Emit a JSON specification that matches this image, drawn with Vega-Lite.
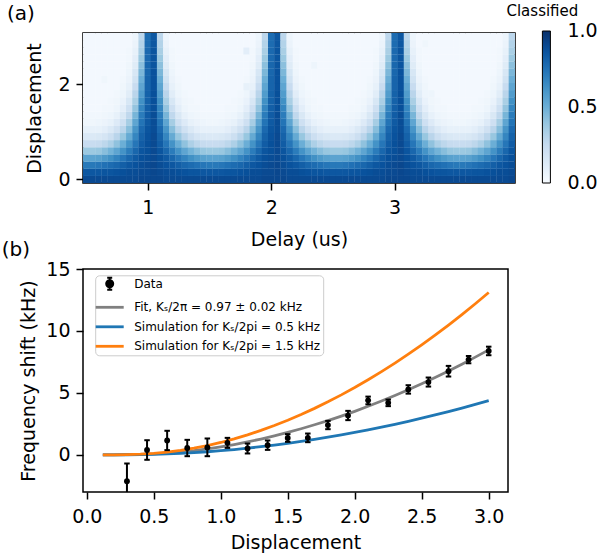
{
"$schema": "https://vega.github.io/schema/vega-lite/v6.json",
"padding": {"left": 0, "top": 3, "right": 0, "bottom": 0},
"spacing": -11,
"config": {
  "font": "DejaVu Sans",
  "view": {"stroke": "black", "strokeWidth": 1.5},
  "axis": {"domain": false, "grid": false, "tickColor": "black", "tickWidth": 1.5, "tickSize": 7, "labelFontSize": 19, "labelColor": "black", "labelPadding": 6, "labelFlush": false, "labelOverlap": false, "titleFontSize": 19, "titleFontWeight": "normal", "titleColor": "black"},
  "axisX": {"labelPadding": 8},
  "title": {"fontSize": 20, "fontWeight": "normal", "color": "black", "anchor": "start", "frame": "group"}
},
"vconcat": [
{
  "width": 432, "height": 150,
  "title": {"text": "(a)", "dx": -76, "offset": -20.4},
  "data": {"values": [
{"t":0.5,"d":0,"v":0.9},{"t":0.55,"d":0,"v":0.9},{"t":0.6,"d":0,"v":0.9},{"t":0.65,"d":0,"v":0.9},{"t":0.7,"d":0,"v":0.9},{"t":0.75,"d":0,"v":0.9},{"t":0.8,"d":0,"v":0.9},{"t":0.85,"d":0,"v":0.9},{"t":0.9,"d":0,"v":0.9},{"t":0.95,"d":0,"v":0.91},{"t":1,"d":0,"v":0.91},{"t":1.05,"d":0,"v":0.91},{"t":1.1,"d":0,"v":0.91},{"t":1.15,"d":0,"v":0.9},{"t":1.2,"d":0,"v":0.9},{"t":1.25,"d":0,"v":0.9},{"t":1.3,"d":0,"v":0.9},{"t":1.35,"d":0,"v":0.9},{"t":1.4,"d":0,"v":0.9},{"t":1.45,"d":0,"v":0.9},
{"t":1.5,"d":0,"v":0.9},{"t":1.55,"d":0,"v":0.9},{"t":1.6,"d":0,"v":0.9},{"t":1.65,"d":0,"v":0.9},{"t":1.7,"d":0,"v":0.9},{"t":1.75,"d":0,"v":0.9},{"t":1.8,"d":0,"v":0.9},{"t":1.85,"d":0,"v":0.9},{"t":1.9,"d":0,"v":0.9},{"t":1.95,"d":0,"v":0.91},{"t":2,"d":0,"v":0.91},{"t":2.05,"d":0,"v":0.91},{"t":2.1,"d":0,"v":0.91},{"t":2.15,"d":0,"v":0.9},{"t":2.2,"d":0,"v":0.9},{"t":2.25,"d":0,"v":0.9},{"t":2.3,"d":0,"v":0.9},{"t":2.35,"d":0,"v":0.9},{"t":2.4,"d":0,"v":0.9},{"t":2.45,"d":0,"v":0.9},
{"t":2.5,"d":0,"v":0.9},{"t":2.55,"d":0,"v":0.9},{"t":2.6,"d":0,"v":0.9},{"t":2.65,"d":0,"v":0.9},{"t":2.7,"d":0,"v":0.9},{"t":2.75,"d":0,"v":0.9},{"t":2.8,"d":0,"v":0.9},{"t":2.85,"d":0,"v":0.9},{"t":2.9,"d":0,"v":0.9},{"t":2.95,"d":0,"v":0.91},{"t":3,"d":0,"v":0.91},{"t":3.05,"d":0,"v":0.91},{"t":3.1,"d":0,"v":0.91},{"t":3.15,"d":0,"v":0.9},{"t":3.2,"d":0,"v":0.9},{"t":3.25,"d":0,"v":0.9},{"t":3.3,"d":0,"v":0.9},{"t":3.35,"d":0,"v":0.9},{"t":3.4,"d":0,"v":0.9},{"t":3.45,"d":0,"v":0.9},
{"t":3.5,"d":0,"v":0.9},{"t":3.55,"d":0,"v":0.9},{"t":3.6,"d":0,"v":0.9},{"t":3.65,"d":0,"v":0.9},{"t":3.7,"d":0,"v":0.9},{"t":3.75,"d":0,"v":0.9},{"t":3.8,"d":0,"v":0.9},{"t":3.85,"d":0,"v":0.9},{"t":3.9,"d":0,"v":0.9},{"t":3.95,"d":0,"v":0.91},

{"t":0.5,"d":0.15,"v":0.85},{"t":0.55,"d":0.15,"v":0.85},{"t":0.6,"d":0.15,"v":0.85},{"t":0.65,"d":0.15,"v":0.86},{"t":0.7,"d":0.15,"v":0.86},{"t":0.75,"d":0.15,"v":0.87},{"t":0.8,"d":0.15,"v":0.88},{"t":0.85,"d":0.15,"v":0.89},{"t":0.9,"d":0.15,"v":0.89},{"t":0.95,"d":0.15,"v":0.9},{"t":1,"d":0.15,"v":0.9},{"t":1.05,"d":0.15,"v":0.91},{"t":1.1,"d":0.15,"v":0.9},{"t":1.15,"d":0.15,"v":0.89},{"t":1.2,"d":0.15,"v":0.89},{"t":1.25,"d":0.15,"v":0.88},{"t":1.3,"d":0.15,"v":0.87},{"t":1.35,"d":0.15,"v":0.86},{"t":1.4,"d":0.15,"v":0.86},{"t":1.45,"d":0.15,"v":0.85},
{"t":1.5,"d":0.15,"v":0.85},{"t":1.55,"d":0.15,"v":0.85},{"t":1.6,"d":0.15,"v":0.85},{"t":1.65,"d":0.15,"v":0.86},{"t":1.7,"d":0.15,"v":0.86},{"t":1.75,"d":0.15,"v":0.87},{"t":1.8,"d":0.15,"v":0.88},{"t":1.85,"d":0.15,"v":0.89},{"t":1.9,"d":0.15,"v":0.89},{"t":1.95,"d":0.15,"v":0.9},{"t":2,"d":0.15,"v":0.9},{"t":2.05,"d":0.15,"v":0.91},{"t":2.1,"d":0.15,"v":0.9},{"t":2.15,"d":0.15,"v":0.89},{"t":2.2,"d":0.15,"v":0.89},{"t":2.25,"d":0.15,"v":0.88},{"t":2.3,"d":0.15,"v":0.87},{"t":2.35,"d":0.15,"v":0.86},{"t":2.4,"d":0.15,"v":0.86},{"t":2.45,"d":0.15,"v":0.85},
{"t":2.5,"d":0.15,"v":0.85},{"t":2.55,"d":0.15,"v":0.85},{"t":2.6,"d":0.15,"v":0.85},{"t":2.65,"d":0.15,"v":0.86},{"t":2.7,"d":0.15,"v":0.86},{"t":2.75,"d":0.15,"v":0.87},{"t":2.8,"d":0.15,"v":0.88},{"t":2.85,"d":0.15,"v":0.89},{"t":2.9,"d":0.15,"v":0.89},{"t":2.95,"d":0.15,"v":0.9},{"t":3,"d":0.15,"v":0.9},{"t":3.05,"d":0.15,"v":0.91},{"t":3.1,"d":0.15,"v":0.9},{"t":3.15,"d":0.15,"v":0.89},{"t":3.2,"d":0.15,"v":0.89},{"t":3.25,"d":0.15,"v":0.88},{"t":3.3,"d":0.15,"v":0.87},{"t":3.35,"d":0.15,"v":0.86},{"t":3.4,"d":0.15,"v":0.86},{"t":3.45,"d":0.15,"v":0.85},
{"t":3.5,"d":0.15,"v":0.85},{"t":3.55,"d":0.15,"v":0.85},{"t":3.6,"d":0.15,"v":0.85},{"t":3.65,"d":0.15,"v":0.86},{"t":3.7,"d":0.15,"v":0.86},{"t":3.75,"d":0.15,"v":0.87},{"t":3.8,"d":0.15,"v":0.88},{"t":3.85,"d":0.15,"v":0.89},{"t":3.9,"d":0.15,"v":0.89},{"t":3.95,"d":0.15,"v":0.9},

{"t":0.5,"d":0.3,"v":0.72},{"t":0.55,"d":0.3,"v":0.72},{"t":0.6,"d":0.3,"v":0.73},{"t":0.65,"d":0.3,"v":0.75},{"t":0.7,"d":0.3,"v":0.77},{"t":0.75,"d":0.3,"v":0.79},{"t":0.8,"d":0.3,"v":0.82},{"t":0.85,"d":0.3,"v":0.85},{"t":0.9,"d":0.3,"v":0.87},{"t":0.95,"d":0.3,"v":0.89},{"t":1,"d":0.3,"v":0.9},{"t":1.05,"d":0.3,"v":0.91},{"t":1.1,"d":0.3,"v":0.89},{"t":1.15,"d":0.3,"v":0.87},{"t":1.2,"d":0.3,"v":0.85},{"t":1.25,"d":0.3,"v":0.82},{"t":1.3,"d":0.3,"v":0.79},{"t":1.35,"d":0.3,"v":0.77},{"t":1.4,"d":0.3,"v":0.75},{"t":1.45,"d":0.3,"v":0.73},
{"t":1.5,"d":0.3,"v":0.72},{"t":1.55,"d":0.3,"v":0.72},{"t":1.6,"d":0.3,"v":0.73},{"t":1.65,"d":0.3,"v":0.75},{"t":1.7,"d":0.3,"v":0.77},{"t":1.75,"d":0.3,"v":0.79},{"t":1.8,"d":0.3,"v":0.82},{"t":1.85,"d":0.3,"v":0.85},{"t":1.9,"d":0.3,"v":0.87},{"t":1.95,"d":0.3,"v":0.89},{"t":2,"d":0.3,"v":0.9},{"t":2.05,"d":0.3,"v":0.91},{"t":2.1,"d":0.3,"v":0.89},{"t":2.15,"d":0.3,"v":0.87},{"t":2.2,"d":0.3,"v":0.85},{"t":2.25,"d":0.3,"v":0.82},{"t":2.3,"d":0.3,"v":0.79},{"t":2.35,"d":0.3,"v":0.77},{"t":2.4,"d":0.3,"v":0.75},{"t":2.45,"d":0.3,"v":0.73},
{"t":2.5,"d":0.3,"v":0.72},{"t":2.55,"d":0.3,"v":0.72},{"t":2.6,"d":0.3,"v":0.73},{"t":2.65,"d":0.3,"v":0.75},{"t":2.7,"d":0.3,"v":0.77},{"t":2.75,"d":0.3,"v":0.79},{"t":2.8,"d":0.3,"v":0.82},{"t":2.85,"d":0.3,"v":0.85},{"t":2.9,"d":0.3,"v":0.87},{"t":2.95,"d":0.3,"v":0.89},{"t":3,"d":0.3,"v":0.9},{"t":3.05,"d":0.3,"v":0.91},{"t":3.1,"d":0.3,"v":0.89},{"t":3.15,"d":0.3,"v":0.87},{"t":3.2,"d":0.3,"v":0.85},{"t":3.25,"d":0.3,"v":0.82},{"t":3.3,"d":0.3,"v":0.79},{"t":3.35,"d":0.3,"v":0.77},{"t":3.4,"d":0.3,"v":0.75},{"t":3.45,"d":0.3,"v":0.73},
{"t":3.5,"d":0.3,"v":0.72},{"t":3.55,"d":0.3,"v":0.72},{"t":3.6,"d":0.3,"v":0.73},{"t":3.65,"d":0.3,"v":0.75},{"t":3.7,"d":0.3,"v":0.77},{"t":3.75,"d":0.3,"v":0.79},{"t":3.8,"d":0.3,"v":0.82},{"t":3.85,"d":0.3,"v":0.85},{"t":3.9,"d":0.3,"v":0.87},{"t":3.95,"d":0.3,"v":0.89},

{"t":0.5,"d":0.45,"v":0.55},{"t":0.55,"d":0.45,"v":0.55},{"t":0.6,"d":0.45,"v":0.56},{"t":0.65,"d":0.45,"v":0.59},{"t":0.7,"d":0.45,"v":0.63},{"t":0.75,"d":0.45,"v":0.68},{"t":0.8,"d":0.45,"v":0.73},{"t":0.85,"d":0.45,"v":0.79},{"t":0.9,"d":0.45,"v":0.84},{"t":0.95,"d":0.45,"v":0.88},{"t":1,"d":0.45,"v":0.89},{"t":1.05,"d":0.45,"v":0.9},{"t":1.1,"d":0.45,"v":0.88},{"t":1.15,"d":0.45,"v":0.84},{"t":1.2,"d":0.45,"v":0.79},{"t":1.25,"d":0.45,"v":0.73},{"t":1.3,"d":0.45,"v":0.68},{"t":1.35,"d":0.45,"v":0.63},{"t":1.4,"d":0.45,"v":0.59},{"t":1.45,"d":0.45,"v":0.56},
{"t":1.5,"d":0.45,"v":0.55},{"t":1.55,"d":0.45,"v":0.55},{"t":1.6,"d":0.45,"v":0.56},{"t":1.65,"d":0.45,"v":0.59},{"t":1.7,"d":0.45,"v":0.63},{"t":1.75,"d":0.45,"v":0.68},{"t":1.8,"d":0.45,"v":0.73},{"t":1.85,"d":0.45,"v":0.79},{"t":1.9,"d":0.45,"v":0.84},{"t":1.95,"d":0.45,"v":0.88},{"t":2,"d":0.45,"v":0.89},{"t":2.05,"d":0.45,"v":0.9},{"t":2.1,"d":0.45,"v":0.88},{"t":2.15,"d":0.45,"v":0.84},{"t":2.2,"d":0.45,"v":0.79},{"t":2.25,"d":0.45,"v":0.73},{"t":2.3,"d":0.45,"v":0.68},{"t":2.35,"d":0.45,"v":0.63},{"t":2.4,"d":0.45,"v":0.59},{"t":2.45,"d":0.45,"v":0.56},
{"t":2.5,"d":0.45,"v":0.55},{"t":2.55,"d":0.45,"v":0.55},{"t":2.6,"d":0.45,"v":0.56},{"t":2.65,"d":0.45,"v":0.59},{"t":2.7,"d":0.45,"v":0.63},{"t":2.75,"d":0.45,"v":0.68},{"t":2.8,"d":0.45,"v":0.73},{"t":2.85,"d":0.45,"v":0.79},{"t":2.9,"d":0.45,"v":0.84},{"t":2.95,"d":0.45,"v":0.88},{"t":3,"d":0.45,"v":0.89},{"t":3.05,"d":0.45,"v":0.9},{"t":3.1,"d":0.45,"v":0.88},{"t":3.15,"d":0.45,"v":0.84},{"t":3.2,"d":0.45,"v":0.79},{"t":3.25,"d":0.45,"v":0.73},{"t":3.3,"d":0.45,"v":0.68},{"t":3.35,"d":0.45,"v":0.63},{"t":3.4,"d":0.45,"v":0.59},{"t":3.45,"d":0.45,"v":0.56},
{"t":3.5,"d":0.45,"v":0.55},{"t":3.55,"d":0.45,"v":0.55},{"t":3.6,"d":0.45,"v":0.56},{"t":3.65,"d":0.45,"v":0.59},{"t":3.7,"d":0.45,"v":0.63},{"t":3.75,"d":0.45,"v":0.68},{"t":3.8,"d":0.45,"v":0.73},{"t":3.85,"d":0.45,"v":0.79},{"t":3.9,"d":0.45,"v":0.84},{"t":3.95,"d":0.45,"v":0.88},

{"t":0.5,"d":0.6,"v":0.38},{"t":0.55,"d":0.6,"v":0.38},{"t":0.6,"d":0.6,"v":0.39},{"t":0.65,"d":0.6,"v":0.43},{"t":0.7,"d":0.6,"v":0.48},{"t":0.75,"d":0.6,"v":0.54},{"t":0.8,"d":0.6,"v":0.62},{"t":0.85,"d":0.6,"v":0.71},{"t":0.9,"d":0.6,"v":0.79},{"t":0.95,"d":0.6,"v":0.86},{"t":1,"d":0.6,"v":0.88},{"t":1.05,"d":0.6,"v":0.9},{"t":1.1,"d":0.6,"v":0.86},{"t":1.15,"d":0.6,"v":0.79},{"t":1.2,"d":0.6,"v":0.71},{"t":1.25,"d":0.6,"v":0.62},{"t":1.3,"d":0.6,"v":0.54},{"t":1.35,"d":0.6,"v":0.48},{"t":1.4,"d":0.6,"v":0.43},{"t":1.45,"d":0.6,"v":0.39},
{"t":1.5,"d":0.6,"v":0.38},{"t":1.55,"d":0.6,"v":0.38},{"t":1.6,"d":0.6,"v":0.39},{"t":1.65,"d":0.6,"v":0.43},{"t":1.7,"d":0.6,"v":0.48},{"t":1.75,"d":0.6,"v":0.54},{"t":1.8,"d":0.6,"v":0.62},{"t":1.85,"d":0.6,"v":0.71},{"t":1.9,"d":0.6,"v":0.79},{"t":1.95,"d":0.6,"v":0.86},{"t":2,"d":0.6,"v":0.88},{"t":2.05,"d":0.6,"v":0.9},{"t":2.1,"d":0.6,"v":0.86},{"t":2.15,"d":0.6,"v":0.79},{"t":2.2,"d":0.6,"v":0.71},{"t":2.25,"d":0.6,"v":0.62},{"t":2.3,"d":0.6,"v":0.54},{"t":2.35,"d":0.6,"v":0.48},{"t":2.4,"d":0.6,"v":0.43},{"t":2.45,"d":0.6,"v":0.39},
{"t":2.5,"d":0.6,"v":0.38},{"t":2.55,"d":0.6,"v":0.38},{"t":2.6,"d":0.6,"v":0.39},{"t":2.65,"d":0.6,"v":0.43},{"t":2.7,"d":0.6,"v":0.48},{"t":2.75,"d":0.6,"v":0.54},{"t":2.8,"d":0.6,"v":0.62},{"t":2.85,"d":0.6,"v":0.71},{"t":2.9,"d":0.6,"v":0.79},{"t":2.95,"d":0.6,"v":0.86},{"t":3,"d":0.6,"v":0.88},{"t":3.05,"d":0.6,"v":0.9},{"t":3.1,"d":0.6,"v":0.86},{"t":3.15,"d":0.6,"v":0.79},{"t":3.2,"d":0.6,"v":0.71},{"t":3.25,"d":0.6,"v":0.62},{"t":3.3,"d":0.6,"v":0.54},{"t":3.35,"d":0.6,"v":0.48},{"t":3.4,"d":0.6,"v":0.43},{"t":3.45,"d":0.6,"v":0.39},
{"t":3.5,"d":0.6,"v":0.38},{"t":3.55,"d":0.6,"v":0.38},{"t":3.6,"d":0.6,"v":0.39},{"t":3.65,"d":0.6,"v":0.43},{"t":3.7,"d":0.6,"v":0.48},{"t":3.75,"d":0.6,"v":0.54},{"t":3.8,"d":0.6,"v":0.62},{"t":3.85,"d":0.6,"v":0.71},{"t":3.9,"d":0.6,"v":0.79},{"t":3.95,"d":0.6,"v":0.86},

{"t":0.5,"d":0.75,"v":0.24},{"t":0.55,"d":0.75,"v":0.24},{"t":0.6,"d":0.75,"v":0.25},{"t":0.65,"d":0.75,"v":0.28},{"t":0.7,"d":0.75,"v":0.33},{"t":0.75,"d":0.75,"v":0.41},{"t":0.8,"d":0.75,"v":0.5},{"t":0.85,"d":0.75,"v":0.62},{"t":0.9,"d":0.75,"v":0.73},{"t":0.95,"d":0.75,"v":0.83},{"t":1,"d":0.75,"v":0.88},{"t":1.05,"d":0.75,"v":0.9},{"t":1.1,"d":0.75,"v":0.83},{"t":1.15,"d":0.75,"v":0.73},{"t":1.2,"d":0.75,"v":0.62},{"t":1.25,"d":0.75,"v":0.5},{"t":1.3,"d":0.75,"v":0.41},{"t":1.35,"d":0.75,"v":0.33},{"t":1.4,"d":0.75,"v":0.28},{"t":1.45,"d":0.75,"v":0.25},
{"t":1.5,"d":0.75,"v":0.24},{"t":1.55,"d":0.75,"v":0.24},{"t":1.6,"d":0.75,"v":0.25},{"t":1.65,"d":0.75,"v":0.28},{"t":1.7,"d":0.75,"v":0.33},{"t":1.75,"d":0.75,"v":0.41},{"t":1.8,"d":0.75,"v":0.5},{"t":1.85,"d":0.75,"v":0.62},{"t":1.9,"d":0.75,"v":0.73},{"t":1.95,"d":0.75,"v":0.83},{"t":2,"d":0.75,"v":0.88},{"t":2.05,"d":0.75,"v":0.9},{"t":2.1,"d":0.75,"v":0.83},{"t":2.15,"d":0.75,"v":0.73},{"t":2.2,"d":0.75,"v":0.62},{"t":2.25,"d":0.75,"v":0.5},{"t":2.3,"d":0.75,"v":0.41},{"t":2.35,"d":0.75,"v":0.33},{"t":2.4,"d":0.75,"v":0.28},{"t":2.45,"d":0.75,"v":0.25},
{"t":2.5,"d":0.75,"v":0.24},{"t":2.55,"d":0.75,"v":0.24},{"t":2.6,"d":0.75,"v":0.25},{"t":2.65,"d":0.75,"v":0.28},{"t":2.7,"d":0.75,"v":0.33},{"t":2.75,"d":0.75,"v":0.41},{"t":2.8,"d":0.75,"v":0.5},{"t":2.85,"d":0.75,"v":0.62},{"t":2.9,"d":0.75,"v":0.73},{"t":2.95,"d":0.75,"v":0.83},{"t":3,"d":0.75,"v":0.88},{"t":3.05,"d":0.75,"v":0.9},{"t":3.1,"d":0.75,"v":0.83},{"t":3.15,"d":0.75,"v":0.73},{"t":3.2,"d":0.75,"v":0.62},{"t":3.25,"d":0.75,"v":0.5},{"t":3.3,"d":0.75,"v":0.41},{"t":3.35,"d":0.75,"v":0.33},{"t":3.4,"d":0.75,"v":0.28},{"t":3.45,"d":0.75,"v":0.25},
{"t":3.5,"d":0.75,"v":0.24},{"t":3.55,"d":0.75,"v":0.24},{"t":3.6,"d":0.75,"v":0.25},{"t":3.65,"d":0.75,"v":0.28},{"t":3.7,"d":0.75,"v":0.33},{"t":3.75,"d":0.75,"v":0.41},{"t":3.8,"d":0.75,"v":0.5},{"t":3.85,"d":0.75,"v":0.62},{"t":3.9,"d":0.75,"v":0.73},{"t":3.95,"d":0.75,"v":0.83},

{"t":0.5,"d":0.9,"v":0.14},{"t":0.55,"d":0.9,"v":0.14},{"t":0.6,"d":0.9,"v":0.15},{"t":0.65,"d":0.9,"v":0.17},{"t":0.7,"d":0.9,"v":0.22},{"t":0.75,"d":0.9,"v":0.29},{"t":0.8,"d":0.9,"v":0.39},{"t":0.85,"d":0.9,"v":0.52},{"t":0.9,"d":0.9,"v":0.67},{"t":0.95,"d":0.9,"v":0.81},{"t":1,"d":0.9,"v":0.87},{"t":1.05,"d":0.9,"v":0.9},{"t":1.1,"d":0.9,"v":0.81},{"t":1.15,"d":0.9,"v":0.67},{"t":1.2,"d":0.9,"v":0.52},{"t":1.25,"d":0.9,"v":0.39},{"t":1.3,"d":0.9,"v":0.29},{"t":1.35,"d":0.9,"v":0.22},{"t":1.4,"d":0.9,"v":0.17},{"t":1.45,"d":0.9,"v":0.15},
{"t":1.5,"d":0.9,"v":0.14},{"t":1.55,"d":0.9,"v":0.14},{"t":1.6,"d":0.9,"v":0.15},{"t":1.65,"d":0.9,"v":0.17},{"t":1.7,"d":0.9,"v":0.22},{"t":1.75,"d":0.9,"v":0.29},{"t":1.8,"d":0.9,"v":0.39},{"t":1.85,"d":0.9,"v":0.52},{"t":1.9,"d":0.9,"v":0.67},{"t":1.95,"d":0.9,"v":0.81},{"t":2,"d":0.9,"v":0.87},{"t":2.05,"d":0.9,"v":0.9},{"t":2.1,"d":0.9,"v":0.81},{"t":2.15,"d":0.9,"v":0.67},{"t":2.2,"d":0.9,"v":0.52},{"t":2.25,"d":0.9,"v":0.39},{"t":2.3,"d":0.9,"v":0.29},{"t":2.35,"d":0.9,"v":0.22},{"t":2.4,"d":0.9,"v":0.17},{"t":2.45,"d":0.9,"v":0.15},
{"t":2.5,"d":0.9,"v":0.14},{"t":2.55,"d":0.9,"v":0.14},{"t":2.6,"d":0.9,"v":0.15},{"t":2.65,"d":0.9,"v":0.17},{"t":2.7,"d":0.9,"v":0.22},{"t":2.75,"d":0.9,"v":0.29},{"t":2.8,"d":0.9,"v":0.39},{"t":2.85,"d":0.9,"v":0.52},{"t":2.9,"d":0.9,"v":0.67},{"t":2.95,"d":0.9,"v":0.81},{"t":3,"d":0.9,"v":0.87},{"t":3.05,"d":0.9,"v":0.9},{"t":3.1,"d":0.9,"v":0.81},{"t":3.15,"d":0.9,"v":0.67},{"t":3.2,"d":0.9,"v":0.52},{"t":3.25,"d":0.9,"v":0.39},{"t":3.3,"d":0.9,"v":0.29},{"t":3.35,"d":0.9,"v":0.22},{"t":3.4,"d":0.9,"v":0.17},{"t":3.45,"d":0.9,"v":0.15},
{"t":3.5,"d":0.9,"v":0.14},{"t":3.55,"d":0.9,"v":0.14},{"t":3.6,"d":0.9,"v":0.15},{"t":3.65,"d":0.9,"v":0.17},{"t":3.7,"d":0.9,"v":0.22},{"t":3.75,"d":0.9,"v":0.29},{"t":3.8,"d":0.9,"v":0.39},{"t":3.85,"d":0.9,"v":0.52},{"t":3.9,"d":0.9,"v":0.67},{"t":3.95,"d":0.9,"v":0.81},

{"t":0.5,"d":1.05,"v":0.08},{"t":0.55,"d":1.05,"v":0.08},{"t":0.6,"d":1.05,"v":0.08},{"t":0.65,"d":1.05,"v":0.1},{"t":0.7,"d":1.05,"v":0.14},{"t":0.75,"d":1.05,"v":0.2},{"t":0.8,"d":1.05,"v":0.29},{"t":0.85,"d":1.05,"v":0.43},{"t":0.9,"d":1.05,"v":0.61},{"t":0.95,"d":1.05,"v":0.78},{"t":1,"d":1.05,"v":0.86},{"t":1.05,"d":1.05,"v":0.89},{"t":1.1,"d":1.05,"v":0.78},{"t":1.15,"d":1.05,"v":0.61},{"t":1.2,"d":1.05,"v":0.43},{"t":1.25,"d":1.05,"v":0.29},{"t":1.3,"d":1.05,"v":0.2},{"t":1.35,"d":1.05,"v":0.14},{"t":1.4,"d":1.05,"v":0.1},{"t":1.45,"d":1.05,"v":0.08},
{"t":1.5,"d":1.05,"v":0.08},{"t":1.55,"d":1.05,"v":0.08},{"t":1.6,"d":1.05,"v":0.08},{"t":1.65,"d":1.05,"v":0.1},{"t":1.7,"d":1.05,"v":0.14},{"t":1.75,"d":1.05,"v":0.2},{"t":1.8,"d":1.05,"v":0.29},{"t":1.85,"d":1.05,"v":0.43},{"t":1.9,"d":1.05,"v":0.61},{"t":1.95,"d":1.05,"v":0.78},{"t":2,"d":1.05,"v":0.86},{"t":2.05,"d":1.05,"v":0.89},{"t":2.1,"d":1.05,"v":0.78},{"t":2.15,"d":1.05,"v":0.61},{"t":2.2,"d":1.05,"v":0.43},{"t":2.25,"d":1.05,"v":0.29},{"t":2.3,"d":1.05,"v":0.2},{"t":2.35,"d":1.05,"v":0.14},{"t":2.4,"d":1.05,"v":0.1},{"t":2.45,"d":1.05,"v":0.08},
{"t":2.5,"d":1.05,"v":0.08},{"t":2.55,"d":1.05,"v":0.08},{"t":2.6,"d":1.05,"v":0.08},{"t":2.65,"d":1.05,"v":0.1},{"t":2.7,"d":1.05,"v":0.14},{"t":2.75,"d":1.05,"v":0.2},{"t":2.8,"d":1.05,"v":0.29},{"t":2.85,"d":1.05,"v":0.43},{"t":2.9,"d":1.05,"v":0.61},{"t":2.95,"d":1.05,"v":0.78},{"t":3,"d":1.05,"v":0.86},{"t":3.05,"d":1.05,"v":0.89},{"t":3.1,"d":1.05,"v":0.78},{"t":3.15,"d":1.05,"v":0.61},{"t":3.2,"d":1.05,"v":0.43},{"t":3.25,"d":1.05,"v":0.29},{"t":3.3,"d":1.05,"v":0.2},{"t":3.35,"d":1.05,"v":0.14},{"t":3.4,"d":1.05,"v":0.1},{"t":3.45,"d":1.05,"v":0.08},
{"t":3.5,"d":1.05,"v":0.08},{"t":3.55,"d":1.05,"v":0.08},{"t":3.6,"d":1.05,"v":0.08},{"t":3.65,"d":1.05,"v":0.1},{"t":3.7,"d":1.05,"v":0.14},{"t":3.75,"d":1.05,"v":0.2},{"t":3.8,"d":1.05,"v":0.29},{"t":3.85,"d":1.05,"v":0.43},{"t":3.9,"d":1.05,"v":0.61},{"t":3.95,"d":1.05,"v":0.78},

{"t":0.5,"d":1.2,"v":0.04},{"t":0.55,"d":1.2,"v":0.04},{"t":0.6,"d":1.2,"v":0.05},{"t":0.65,"d":1.2,"v":0.06},{"t":0.7,"d":1.2,"v":0.08},{"t":0.75,"d":1.2,"v":0.13},{"t":0.8,"d":1.2,"v":0.21},{"t":0.85,"d":1.2,"v":0.35},{"t":0.9,"d":1.2,"v":0.54},{"t":0.95,"d":1.2,"v":0.74},{"t":1,"d":1.2,"v":0.84},{"t":1.05,"d":1.2,"v":0.89},{"t":1.1,"d":1.2,"v":0.74},{"t":1.15,"d":1.2,"v":0.54},{"t":1.2,"d":1.2,"v":0.35},{"t":1.25,"d":1.2,"v":0.21},{"t":1.3,"d":1.2,"v":0.13},{"t":1.35,"d":1.2,"v":0.08},{"t":1.4,"d":1.2,"v":0.06},{"t":1.45,"d":1.2,"v":0.05},
{"t":1.5,"d":1.2,"v":0.04},{"t":1.55,"d":1.2,"v":0.04},{"t":1.6,"d":1.2,"v":0.05},{"t":1.65,"d":1.2,"v":0.06},{"t":1.7,"d":1.2,"v":0.08},{"t":1.75,"d":1.2,"v":0.13},{"t":1.8,"d":1.2,"v":0.21},{"t":1.85,"d":1.2,"v":0.35},{"t":1.9,"d":1.2,"v":0.54},{"t":1.95,"d":1.2,"v":0.74},{"t":2,"d":1.2,"v":0.84},{"t":2.05,"d":1.2,"v":0.89},{"t":2.1,"d":1.2,"v":0.74},{"t":2.15,"d":1.2,"v":0.54},{"t":2.2,"d":1.2,"v":0.35},{"t":2.25,"d":1.2,"v":0.21},{"t":2.3,"d":1.2,"v":0.13},{"t":2.35,"d":1.2,"v":0.08},{"t":2.4,"d":1.2,"v":0.06},{"t":2.45,"d":1.2,"v":0.05},
{"t":2.5,"d":1.2,"v":0.04},{"t":2.55,"d":1.2,"v":0.04},{"t":2.6,"d":1.2,"v":0.05},{"t":2.65,"d":1.2,"v":0.06},{"t":2.7,"d":1.2,"v":0.08},{"t":2.75,"d":1.2,"v":0.13},{"t":2.8,"d":1.2,"v":0.21},{"t":2.85,"d":1.2,"v":0.35},{"t":2.9,"d":1.2,"v":0.54},{"t":2.95,"d":1.2,"v":0.74},{"t":3,"d":1.2,"v":0.84},{"t":3.05,"d":1.2,"v":0.89},{"t":3.1,"d":1.2,"v":0.74},{"t":3.15,"d":1.2,"v":0.54},{"t":3.2,"d":1.2,"v":0.35},{"t":3.25,"d":1.2,"v":0.21},{"t":3.3,"d":1.2,"v":0.13},{"t":3.35,"d":1.2,"v":0.08},{"t":3.4,"d":1.2,"v":0.06},{"t":3.45,"d":1.2,"v":0.05},
{"t":3.5,"d":1.2,"v":0.04},{"t":3.55,"d":1.2,"v":0.04},{"t":3.6,"d":1.2,"v":0.05},{"t":3.65,"d":1.2,"v":0.06},{"t":3.7,"d":1.2,"v":0.08},{"t":3.75,"d":1.2,"v":0.13},{"t":3.8,"d":1.2,"v":0.21},{"t":3.85,"d":1.2,"v":0.35},{"t":3.9,"d":1.2,"v":0.54},{"t":3.95,"d":1.2,"v":0.74},

{"t":0.5,"d":1.35,"v":0.03},{"t":0.55,"d":1.35,"v":0.03},{"t":0.6,"d":1.35,"v":0.03},{"t":0.65,"d":1.35,"v":0.04},{"t":0.7,"d":1.35,"v":0.05},{"t":0.75,"d":1.35,"v":0.08},{"t":0.8,"d":1.35,"v":0.15},{"t":0.85,"d":1.35,"v":0.27},{"t":0.9,"d":1.35,"v":0.47},{"t":0.95,"d":1.35,"v":0.71},{"t":1,"d":1.35,"v":0.83},{"t":1.05,"d":1.35,"v":0.89},{"t":1.1,"d":1.35,"v":0.71},{"t":1.15,"d":1.35,"v":0.47},{"t":1.2,"d":1.35,"v":0.27},{"t":1.25,"d":1.35,"v":0.15},{"t":1.3,"d":1.35,"v":0.08},{"t":1.35,"d":1.35,"v":0.05},{"t":1.4,"d":1.35,"v":0.04},{"t":1.45,"d":1.35,"v":0.03},
{"t":1.5,"d":1.35,"v":0.03},{"t":1.55,"d":1.35,"v":0.03},{"t":1.6,"d":1.35,"v":0.03},{"t":1.65,"d":1.35,"v":0.04},{"t":1.7,"d":1.35,"v":0.05},{"t":1.75,"d":1.35,"v":0.08},{"t":1.8,"d":1.35,"v":0.15},{"t":1.85,"d":1.35,"v":0.27},{"t":1.9,"d":1.35,"v":0.47},{"t":1.95,"d":1.35,"v":0.71},{"t":2,"d":1.35,"v":0.83},{"t":2.05,"d":1.35,"v":0.89},{"t":2.1,"d":1.35,"v":0.71},{"t":2.15,"d":1.35,"v":0.47},{"t":2.2,"d":1.35,"v":0.27},{"t":2.25,"d":1.35,"v":0.15},{"t":2.3,"d":1.35,"v":0.08},{"t":2.35,"d":1.35,"v":0.05},{"t":2.4,"d":1.35,"v":0.04},{"t":2.45,"d":1.35,"v":0.03},
{"t":2.5,"d":1.35,"v":0.03},{"t":2.55,"d":1.35,"v":0.03},{"t":2.6,"d":1.35,"v":0.03},{"t":2.65,"d":1.35,"v":0.04},{"t":2.7,"d":1.35,"v":0.05},{"t":2.75,"d":1.35,"v":0.08},{"t":2.8,"d":1.35,"v":0.15},{"t":2.85,"d":1.35,"v":0.27},{"t":2.9,"d":1.35,"v":0.47},{"t":2.95,"d":1.35,"v":0.71},{"t":3,"d":1.35,"v":0.83},{"t":3.05,"d":1.35,"v":0.89},{"t":3.1,"d":1.35,"v":0.71},{"t":3.15,"d":1.35,"v":0.47},{"t":3.2,"d":1.35,"v":0.27},{"t":3.25,"d":1.35,"v":0.15},{"t":3.3,"d":1.35,"v":0.08},{"t":3.35,"d":1.35,"v":0.05},{"t":3.4,"d":1.35,"v":0.04},{"t":3.45,"d":1.35,"v":0.03},
{"t":3.5,"d":1.35,"v":0.03},{"t":3.55,"d":1.35,"v":0.03},{"t":3.6,"d":1.35,"v":0.03},{"t":3.65,"d":1.35,"v":0.04},{"t":3.7,"d":1.35,"v":0.05},{"t":3.75,"d":1.35,"v":0.08},{"t":3.8,"d":1.35,"v":0.15},{"t":3.85,"d":1.35,"v":0.27},{"t":3.9,"d":1.35,"v":0.47},{"t":3.95,"d":1.35,"v":0.71},

{"t":0.5,"d":1.5,"v":0.02},{"t":0.55,"d":1.5,"v":0.02},{"t":0.6,"d":1.5,"v":0.02},{"t":0.65,"d":1.5,"v":0.03},{"t":0.7,"d":1.5,"v":0.03},{"t":0.75,"d":1.5,"v":0.05},{"t":0.8,"d":1.5,"v":0.1},{"t":0.85,"d":1.5,"v":0.21},{"t":0.9,"d":1.5,"v":0.4},{"t":0.95,"d":1.5,"v":0.67},{"t":1,"d":1.5,"v":0.82},{"t":1.05,"d":1.5,"v":0.88},{"t":1.1,"d":1.5,"v":0.67},{"t":1.15,"d":1.5,"v":0.4},{"t":1.2,"d":1.5,"v":0.21},{"t":1.25,"d":1.5,"v":0.1},{"t":1.3,"d":1.5,"v":0.05},{"t":1.35,"d":1.5,"v":0.03},{"t":1.4,"d":1.5,"v":0.03},{"t":1.45,"d":1.5,"v":0.02},
{"t":1.5,"d":1.5,"v":0.02},{"t":1.55,"d":1.5,"v":0.02},{"t":1.6,"d":1.5,"v":0.02},{"t":1.65,"d":1.5,"v":0.03},{"t":1.7,"d":1.5,"v":0.03},{"t":1.75,"d":1.5,"v":0.05},{"t":1.8,"d":1.5,"v":0.1},{"t":1.85,"d":1.5,"v":0.21},{"t":1.9,"d":1.5,"v":0.4},{"t":1.95,"d":1.5,"v":0.67},{"t":2,"d":1.5,"v":0.82},{"t":2.05,"d":1.5,"v":0.88},{"t":2.1,"d":1.5,"v":0.67},{"t":2.15,"d":1.5,"v":0.4},{"t":2.2,"d":1.5,"v":0.21},{"t":2.25,"d":1.5,"v":0.1},{"t":2.3,"d":1.5,"v":0.05},{"t":2.35,"d":1.5,"v":0.03},{"t":2.4,"d":1.5,"v":0.03},{"t":2.45,"d":1.5,"v":0.02},
{"t":2.5,"d":1.5,"v":0.02},{"t":2.55,"d":1.5,"v":0.02},{"t":2.6,"d":1.5,"v":0.02},{"t":2.65,"d":1.5,"v":0.03},{"t":2.7,"d":1.5,"v":0.03},{"t":2.75,"d":1.5,"v":0.05},{"t":2.8,"d":1.5,"v":0.1},{"t":2.85,"d":1.5,"v":0.21},{"t":2.9,"d":1.5,"v":0.4},{"t":2.95,"d":1.5,"v":0.67},{"t":3,"d":1.5,"v":0.82},{"t":3.05,"d":1.5,"v":0.88},{"t":3.1,"d":1.5,"v":0.67},{"t":3.15,"d":1.5,"v":0.4},{"t":3.2,"d":1.5,"v":0.21},{"t":3.25,"d":1.5,"v":0.1},{"t":3.3,"d":1.5,"v":0.05},{"t":3.35,"d":1.5,"v":0.03},{"t":3.4,"d":1.5,"v":0.03},{"t":3.45,"d":1.5,"v":0.02},
{"t":3.5,"d":1.5,"v":0.02},{"t":3.55,"d":1.5,"v":0.02},{"t":3.6,"d":1.5,"v":0.02},{"t":3.65,"d":1.5,"v":0.03},{"t":3.7,"d":1.5,"v":0.03},{"t":3.75,"d":1.5,"v":0.05},{"t":3.8,"d":1.5,"v":0.1},{"t":3.85,"d":1.5,"v":0.21},{"t":3.9,"d":1.5,"v":0.4},{"t":3.95,"d":1.5,"v":0.67},

{"t":0.5,"d":1.65,"v":0.02},{"t":0.55,"d":1.65,"v":0.02},{"t":0.6,"d":1.65,"v":0.02},{"t":0.65,"d":1.65,"v":0.02},{"t":0.7,"d":1.65,"v":0.03},{"t":0.75,"d":1.65,"v":0.04},{"t":0.8,"d":1.65,"v":0.07},{"t":0.85,"d":1.65,"v":0.16},{"t":0.9,"d":1.65,"v":0.34},{"t":0.95,"d":1.65,"v":0.63},{"t":1,"d":1.65,"v":0.81},{"t":1.05,"d":1.65,"v":0.88},{"t":1.1,"d":1.65,"v":0.63},{"t":1.15,"d":1.65,"v":0.34},{"t":1.2,"d":1.65,"v":0.16},{"t":1.25,"d":1.65,"v":0.07},{"t":1.3,"d":1.65,"v":0.04},{"t":1.35,"d":1.65,"v":0.03},{"t":1.4,"d":1.65,"v":0.02},{"t":1.45,"d":1.65,"v":0.02},
{"t":1.5,"d":1.65,"v":0.02},{"t":1.55,"d":1.65,"v":0.02},{"t":1.6,"d":1.65,"v":0.02},{"t":1.65,"d":1.65,"v":0.02},{"t":1.7,"d":1.65,"v":0.03},{"t":1.75,"d":1.65,"v":0.04},{"t":1.8,"d":1.65,"v":0.07},{"t":1.85,"d":1.65,"v":0.16},{"t":1.9,"d":1.65,"v":0.34},{"t":1.95,"d":1.65,"v":0.63},{"t":2,"d":1.65,"v":0.81},{"t":2.05,"d":1.65,"v":0.88},{"t":2.1,"d":1.65,"v":0.63},{"t":2.15,"d":1.65,"v":0.34},{"t":2.2,"d":1.65,"v":0.16},{"t":2.25,"d":1.65,"v":0.07},{"t":2.3,"d":1.65,"v":0.04},{"t":2.35,"d":1.65,"v":0.03},{"t":2.4,"d":1.65,"v":0.02},{"t":2.45,"d":1.65,"v":0.02},
{"t":2.5,"d":1.65,"v":0.02},{"t":2.55,"d":1.65,"v":0.02},{"t":2.6,"d":1.65,"v":0.02},{"t":2.65,"d":1.65,"v":0.02},{"t":2.7,"d":1.65,"v":0.03},{"t":2.75,"d":1.65,"v":0.04},{"t":2.8,"d":1.65,"v":0.07},{"t":2.85,"d":1.65,"v":0.16},{"t":2.9,"d":1.65,"v":0.34},{"t":2.95,"d":1.65,"v":0.63},{"t":3,"d":1.65,"v":0.81},{"t":3.05,"d":1.65,"v":0.88},{"t":3.1,"d":1.65,"v":0.63},{"t":3.15,"d":1.65,"v":0.34},{"t":3.2,"d":1.65,"v":0.16},{"t":3.25,"d":1.65,"v":0.07},{"t":3.3,"d":1.65,"v":0.04},{"t":3.35,"d":1.65,"v":0.03},{"t":3.4,"d":1.65,"v":0.02},{"t":3.45,"d":1.65,"v":0.02},
{"t":3.5,"d":1.65,"v":0.02},{"t":3.55,"d":1.65,"v":0.02},{"t":3.6,"d":1.65,"v":0.02},{"t":3.65,"d":1.65,"v":0.02},{"t":3.7,"d":1.65,"v":0.03},{"t":3.75,"d":1.65,"v":0.04},{"t":3.8,"d":1.65,"v":0.07},{"t":3.85,"d":1.65,"v":0.16},{"t":3.9,"d":1.65,"v":0.34},{"t":3.95,"d":1.65,"v":0.63},

{"t":0.5,"d":1.8,"v":0.02},{"t":0.55,"d":1.8,"v":0.02},{"t":0.6,"d":1.8,"v":0.02},{"t":0.65,"d":1.8,"v":0.02},{"t":0.7,"d":1.8,"v":0.02},{"t":0.75,"d":1.8,"v":0.03},{"t":0.8,"d":1.8,"v":0.05},{"t":0.85,"d":1.8,"v":0.11},{"t":0.9,"d":1.8,"v":0.29},{"t":0.95,"d":1.8,"v":0.58},{"t":1,"d":1.8,"v":0.81},{"t":1.05,"d":1.8,"v":0.88},{"t":1.1,"d":1.8,"v":0.58},{"t":1.15,"d":1.8,"v":0.29},{"t":1.2,"d":1.8,"v":0.11},{"t":1.25,"d":1.8,"v":0.05},{"t":1.3,"d":1.8,"v":0.03},{"t":1.35,"d":1.8,"v":0.02},{"t":1.4,"d":1.8,"v":0.02},{"t":1.45,"d":1.8,"v":0.02},
{"t":1.5,"d":1.8,"v":0.02},{"t":1.55,"d":1.8,"v":0.02},{"t":1.6,"d":1.8,"v":0.02},{"t":1.65,"d":1.8,"v":0.02},{"t":1.7,"d":1.8,"v":0.02},{"t":1.75,"d":1.8,"v":0.03},{"t":1.8,"d":1.8,"v":0.05},{"t":1.85,"d":1.8,"v":0.11},{"t":1.9,"d":1.8,"v":0.29},{"t":1.95,"d":1.8,"v":0.58},{"t":2,"d":1.8,"v":0.81},{"t":2.05,"d":1.8,"v":0.88},{"t":2.1,"d":1.8,"v":0.58},{"t":2.15,"d":1.8,"v":0.29},{"t":2.2,"d":1.8,"v":0.11},{"t":2.25,"d":1.8,"v":0.05},{"t":2.3,"d":1.8,"v":0.03},{"t":2.35,"d":1.8,"v":0.02},{"t":2.4,"d":1.8,"v":0.02},{"t":2.45,"d":1.8,"v":0.02},
{"t":2.5,"d":1.8,"v":0.02},{"t":2.55,"d":1.8,"v":0.02},{"t":2.6,"d":1.8,"v":0.02},{"t":2.65,"d":1.8,"v":0.02},{"t":2.7,"d":1.8,"v":0.02},{"t":2.75,"d":1.8,"v":0.03},{"t":2.8,"d":1.8,"v":0.05},{"t":2.85,"d":1.8,"v":0.11},{"t":2.9,"d":1.8,"v":0.29},{"t":2.95,"d":1.8,"v":0.58},{"t":3,"d":1.8,"v":0.81},{"t":3.05,"d":1.8,"v":0.88},{"t":3.1,"d":1.8,"v":0.58},{"t":3.15,"d":1.8,"v":0.29},{"t":3.2,"d":1.8,"v":0.11},{"t":3.25,"d":1.8,"v":0.05},{"t":3.3,"d":1.8,"v":0.05},{"t":3.35,"d":1.8,"v":0.02},{"t":3.4,"d":1.8,"v":0.02},{"t":3.45,"d":1.8,"v":0.02},
{"t":3.5,"d":1.8,"v":0.02},{"t":3.55,"d":1.8,"v":0.02},{"t":3.6,"d":1.8,"v":0.02},{"t":3.65,"d":1.8,"v":0.02},{"t":3.7,"d":1.8,"v":0.02},{"t":3.75,"d":1.8,"v":0.03},{"t":3.8,"d":1.8,"v":0.05},{"t":3.85,"d":1.8,"v":0.11},{"t":3.9,"d":1.8,"v":0.29},{"t":3.95,"d":1.8,"v":0.58},

{"t":0.5,"d":1.95,"v":0.02},{"t":0.55,"d":1.95,"v":0.02},{"t":0.6,"d":1.95,"v":0.02},{"t":0.65,"d":1.95,"v":0.02},{"t":0.7,"d":1.95,"v":0.02},{"t":0.75,"d":1.95,"v":0.02},{"t":0.8,"d":1.95,"v":0.04},{"t":0.85,"d":1.95,"v":0.08},{"t":0.9,"d":1.95,"v":0.24},{"t":0.95,"d":1.95,"v":0.54},{"t":1,"d":1.95,"v":0.8},{"t":1.05,"d":1.95,"v":0.87},{"t":1.1,"d":1.95,"v":0.54},{"t":1.15,"d":1.95,"v":0.24},{"t":1.2,"d":1.95,"v":0.08},{"t":1.25,"d":1.95,"v":0.04},{"t":1.3,"d":1.95,"v":0.02},{"t":1.35,"d":1.95,"v":0.02},{"t":1.4,"d":1.95,"v":0.02},{"t":1.45,"d":1.95,"v":0.02},
{"t":1.5,"d":1.95,"v":0.02},{"t":1.55,"d":1.95,"v":0.02},{"t":1.6,"d":1.95,"v":0.02},{"t":1.65,"d":1.95,"v":0.02},{"t":1.7,"d":1.95,"v":0.02},{"t":1.75,"d":1.95,"v":0.02},{"t":1.8,"d":1.95,"v":0.08},{"t":1.85,"d":1.95,"v":0.08},{"t":1.9,"d":1.95,"v":0.24},{"t":1.95,"d":1.95,"v":0.54},{"t":2,"d":1.95,"v":0.8},{"t":2.05,"d":1.95,"v":0.87},{"t":2.1,"d":1.95,"v":0.54},{"t":2.15,"d":1.95,"v":0.24},{"t":2.2,"d":1.95,"v":0.08},{"t":2.25,"d":1.95,"v":0.04},{"t":2.3,"d":1.95,"v":0.02},{"t":2.35,"d":1.95,"v":0.02},{"t":2.4,"d":1.95,"v":0.02},{"t":2.45,"d":1.95,"v":0.02},
{"t":2.5,"d":1.95,"v":0.02},{"t":2.55,"d":1.95,"v":0.02},{"t":2.6,"d":1.95,"v":0.02},{"t":2.65,"d":1.95,"v":0.02},{"t":2.7,"d":1.95,"v":0.02},{"t":2.75,"d":1.95,"v":0.02},{"t":2.8,"d":1.95,"v":0.04},{"t":2.85,"d":1.95,"v":0.08},{"t":2.9,"d":1.95,"v":0.24},{"t":2.95,"d":1.95,"v":0.54},{"t":3,"d":1.95,"v":0.8},{"t":3.05,"d":1.95,"v":0.87},{"t":3.1,"d":1.95,"v":0.54},{"t":3.15,"d":1.95,"v":0.24},{"t":3.2,"d":1.95,"v":0.08},{"t":3.25,"d":1.95,"v":0.04},{"t":3.3,"d":1.95,"v":0.02},{"t":3.35,"d":1.95,"v":0.02},{"t":3.4,"d":1.95,"v":0.02},{"t":3.45,"d":1.95,"v":0.02},
{"t":3.5,"d":1.95,"v":0.02},{"t":3.55,"d":1.95,"v":0.02},{"t":3.6,"d":1.95,"v":0.02},{"t":3.65,"d":1.95,"v":0.02},{"t":3.7,"d":1.95,"v":0.02},{"t":3.75,"d":1.95,"v":0.02},{"t":3.8,"d":1.95,"v":0.04},{"t":3.85,"d":1.95,"v":0.08},{"t":3.9,"d":1.95,"v":0.24},{"t":3.95,"d":1.95,"v":0.54},

{"t":0.5,"d":2.1,"v":0.02},{"t":0.55,"d":2.1,"v":0.02},{"t":0.6,"d":2.1,"v":0.02},{"t":0.65,"d":2.1,"v":0.04},{"t":0.7,"d":2.1,"v":0.02},{"t":0.75,"d":2.1,"v":0.02},{"t":0.8,"d":2.1,"v":0.03},{"t":0.85,"d":2.1,"v":0.06},{"t":0.9,"d":2.1,"v":0.19},{"t":0.95,"d":2.1,"v":0.5},{"t":1,"d":2.1,"v":0.8},{"t":1.05,"d":2.1,"v":0.87},{"t":1.1,"d":2.1,"v":0.5},{"t":1.15,"d":2.1,"v":0.19},{"t":1.2,"d":2.1,"v":0.06},{"t":1.25,"d":2.1,"v":0.03},{"t":1.3,"d":2.1,"v":0.02},{"t":1.35,"d":2.1,"v":0.02},{"t":1.4,"d":2.1,"v":0.02},{"t":1.45,"d":2.1,"v":0.02},
{"t":1.5,"d":2.1,"v":0.02},{"t":1.55,"d":2.1,"v":0.02},{"t":1.6,"d":2.1,"v":0.02},{"t":1.65,"d":2.1,"v":0.02},{"t":1.7,"d":2.1,"v":0.02},{"t":1.75,"d":2.1,"v":0.02},{"t":1.8,"d":2.1,"v":0.03},{"t":1.85,"d":2.1,"v":0.06},{"t":1.9,"d":2.1,"v":0.19},{"t":1.95,"d":2.1,"v":0.5},{"t":2,"d":2.1,"v":0.8},{"t":2.05,"d":2.1,"v":0.87},{"t":2.1,"d":2.1,"v":0.5},{"t":2.15,"d":2.1,"v":0.19},{"t":2.2,"d":2.1,"v":0.06},{"t":2.25,"d":2.1,"v":0.03},{"t":2.3,"d":2.1,"v":0.02},{"t":2.35,"d":2.1,"v":0.02},{"t":2.4,"d":2.1,"v":0.02},{"t":2.45,"d":2.1,"v":0.02},
{"t":2.5,"d":2.1,"v":0.02},{"t":2.55,"d":2.1,"v":0.02},{"t":2.6,"d":2.1,"v":0.02},{"t":2.65,"d":2.1,"v":0.02},{"t":2.7,"d":2.1,"v":0.02},{"t":2.75,"d":2.1,"v":0.02},{"t":2.8,"d":2.1,"v":0.03},{"t":2.85,"d":2.1,"v":0.06},{"t":2.9,"d":2.1,"v":0.19},{"t":2.95,"d":2.1,"v":0.5},{"t":3,"d":2.1,"v":0.8},{"t":3.05,"d":2.1,"v":0.87},{"t":3.1,"d":2.1,"v":0.5},{"t":3.15,"d":2.1,"v":0.19},{"t":3.2,"d":2.1,"v":0.06},{"t":3.25,"d":2.1,"v":0.03},{"t":3.3,"d":2.1,"v":0.02},{"t":3.35,"d":2.1,"v":0.02},{"t":3.4,"d":2.1,"v":0.02},{"t":3.45,"d":2.1,"v":0.02},
{"t":3.5,"d":2.1,"v":0.02},{"t":3.55,"d":2.1,"v":0.02},{"t":3.6,"d":2.1,"v":0.02},{"t":3.65,"d":2.1,"v":0.02},{"t":3.7,"d":2.1,"v":0.02},{"t":3.75,"d":2.1,"v":0.02},{"t":3.8,"d":2.1,"v":0.03},{"t":3.85,"d":2.1,"v":0.06},{"t":3.9,"d":2.1,"v":0.19},{"t":3.95,"d":2.1,"v":0.5},

{"t":0.5,"d":2.25,"v":0.02},{"t":0.55,"d":2.25,"v":0.02},{"t":0.6,"d":2.25,"v":0.02},{"t":0.65,"d":2.25,"v":0.02},{"t":0.7,"d":2.25,"v":0.02},{"t":0.75,"d":2.25,"v":0.02},{"t":0.8,"d":2.25,"v":0.02},{"t":0.85,"d":2.25,"v":0.05},{"t":0.9,"d":2.25,"v":0.16},{"t":0.95,"d":2.25,"v":0.46},{"t":1,"d":2.25,"v":0.79},{"t":1.05,"d":2.25,"v":0.87},{"t":1.1,"d":2.25,"v":0.46},{"t":1.15,"d":2.25,"v":0.16},{"t":1.2,"d":2.25,"v":0.05},{"t":1.25,"d":2.25,"v":0.02},{"t":1.3,"d":2.25,"v":0.02},{"t":1.35,"d":2.25,"v":0.02},{"t":1.4,"d":2.25,"v":0.02},{"t":1.45,"d":2.25,"v":0.02},
{"t":1.5,"d":2.25,"v":0.02},{"t":1.55,"d":2.25,"v":0.02},{"t":1.6,"d":2.25,"v":0.02},{"t":1.65,"d":2.25,"v":0.02},{"t":1.7,"d":2.25,"v":0.02},{"t":1.75,"d":2.25,"v":0.02},{"t":1.8,"d":2.25,"v":0.02},{"t":1.85,"d":2.25,"v":0.05},{"t":1.9,"d":2.25,"v":0.16},{"t":1.95,"d":2.25,"v":0.46},{"t":2,"d":2.25,"v":0.79},{"t":2.05,"d":2.25,"v":0.87},{"t":2.1,"d":2.25,"v":0.46},{"t":2.15,"d":2.25,"v":0.16},{"t":2.2,"d":2.25,"v":0.05},{"t":2.25,"d":2.25,"v":0.02},{"t":2.3,"d":2.25,"v":0.02},{"t":2.35,"d":2.25,"v":0.02},{"t":2.4,"d":2.25,"v":0.02},{"t":2.45,"d":2.25,"v":0.02},
{"t":2.5,"d":2.25,"v":0.02},{"t":2.55,"d":2.25,"v":0.02},{"t":2.6,"d":2.25,"v":0.02},{"t":2.65,"d":2.25,"v":0.02},{"t":2.7,"d":2.25,"v":0.02},{"t":2.75,"d":2.25,"v":0.02},{"t":2.8,"d":2.25,"v":0.02},{"t":2.85,"d":2.25,"v":0.05},{"t":2.9,"d":2.25,"v":0.16},{"t":2.95,"d":2.25,"v":0.46},{"t":3,"d":2.25,"v":0.79},{"t":3.05,"d":2.25,"v":0.87},{"t":3.1,"d":2.25,"v":0.46},{"t":3.15,"d":2.25,"v":0.16},{"t":3.2,"d":2.25,"v":0.05},{"t":3.25,"d":2.25,"v":0.02},{"t":3.3,"d":2.25,"v":0.02},{"t":3.35,"d":2.25,"v":0.02},{"t":3.4,"d":2.25,"v":0.02},{"t":3.45,"d":2.25,"v":0.02},
{"t":3.5,"d":2.25,"v":0.02},{"t":3.55,"d":2.25,"v":0.02},{"t":3.6,"d":2.25,"v":0.02},{"t":3.65,"d":2.25,"v":0.02},{"t":3.7,"d":2.25,"v":0.02},{"t":3.75,"d":2.25,"v":0.02},{"t":3.8,"d":2.25,"v":0.02},{"t":3.85,"d":2.25,"v":0.05},{"t":3.9,"d":2.25,"v":0.16},{"t":3.95,"d":2.25,"v":0.46},

{"t":0.5,"d":2.4,"v":0.02},{"t":0.55,"d":2.4,"v":0.02},{"t":0.6,"d":2.4,"v":0.02},{"t":0.65,"d":2.4,"v":0.02},{"t":0.7,"d":2.4,"v":0.02},{"t":0.75,"d":2.4,"v":0.02},{"t":0.8,"d":2.4,"v":0.02},{"t":0.85,"d":2.4,"v":0.04},{"t":0.9,"d":2.4,"v":0.12},{"t":0.95,"d":2.4,"v":0.42},{"t":1,"d":2.4,"v":0.79},{"t":1.05,"d":2.4,"v":0.86},{"t":1.1,"d":2.4,"v":0.42},{"t":1.15,"d":2.4,"v":0.12},{"t":1.2,"d":2.4,"v":0.04},{"t":1.25,"d":2.4,"v":0.02},{"t":1.3,"d":2.4,"v":0.02},{"t":1.35,"d":2.4,"v":0.02},{"t":1.4,"d":2.4,"v":0.02},{"t":1.45,"d":2.4,"v":0.02},
{"t":1.5,"d":2.4,"v":0.02},{"t":1.55,"d":2.4,"v":0.02},{"t":1.6,"d":2.4,"v":0.02},{"t":1.65,"d":2.4,"v":0.02},{"t":1.7,"d":2.4,"v":0.02},{"t":1.75,"d":2.4,"v":0.02},{"t":1.8,"d":2.4,"v":0.02},{"t":1.85,"d":2.4,"v":0.04},{"t":1.9,"d":2.4,"v":0.12},{"t":1.95,"d":2.4,"v":0.42},{"t":2,"d":2.4,"v":0.79},{"t":2.05,"d":2.4,"v":0.86},{"t":2.1,"d":2.4,"v":0.42},{"t":2.15,"d":2.4,"v":0.12},{"t":2.2,"d":2.4,"v":0.04},{"t":2.25,"d":2.4,"v":0.02},{"t":2.3,"d":2.4,"v":0.02},{"t":2.35,"d":2.4,"v":0.05},{"t":2.4,"d":2.4,"v":0.02},{"t":2.45,"d":2.4,"v":0.02},
{"t":2.5,"d":2.4,"v":0.02},{"t":2.55,"d":2.4,"v":0.02},{"t":2.6,"d":2.4,"v":0.02},{"t":2.65,"d":2.4,"v":0.02},{"t":2.7,"d":2.4,"v":0.02},{"t":2.75,"d":2.4,"v":0.02},{"t":2.8,"d":2.4,"v":0.02},{"t":2.85,"d":2.4,"v":0.04},{"t":2.9,"d":2.4,"v":0.12},{"t":2.95,"d":2.4,"v":0.42},{"t":3,"d":2.4,"v":0.79},{"t":3.05,"d":2.4,"v":0.86},{"t":3.1,"d":2.4,"v":0.42},{"t":3.15,"d":2.4,"v":0.12},{"t":3.2,"d":2.4,"v":0.04},{"t":3.25,"d":2.4,"v":0.02},{"t":3.3,"d":2.4,"v":0.02},{"t":3.35,"d":2.4,"v":0.02},{"t":3.4,"d":2.4,"v":0.02},{"t":3.45,"d":2.4,"v":0.02},
{"t":3.5,"d":2.4,"v":0.02},{"t":3.55,"d":2.4,"v":0.02},{"t":3.6,"d":2.4,"v":0.02},{"t":3.65,"d":2.4,"v":0.02},{"t":3.7,"d":2.4,"v":0.02},{"t":3.75,"d":2.4,"v":0.02},{"t":3.8,"d":2.4,"v":0.02},{"t":3.85,"d":2.4,"v":0.04},{"t":3.9,"d":2.4,"v":0.12},{"t":3.95,"d":2.4,"v":0.42},

{"t":0.5,"d":2.55,"v":0.02},{"t":0.55,"d":2.55,"v":0.02},{"t":0.6,"d":2.55,"v":0.02},{"t":0.65,"d":2.55,"v":0.02},{"t":0.7,"d":2.55,"v":0.02},{"t":0.75,"d":2.55,"v":0.02},{"t":0.8,"d":2.55,"v":0.02},{"t":0.85,"d":2.55,"v":0.03},{"t":0.9,"d":2.55,"v":0.1},{"t":0.95,"d":2.55,"v":0.38},{"t":1,"d":2.55,"v":0.78},{"t":1.05,"d":2.55,"v":0.86},{"t":1.1,"d":2.55,"v":0.38},{"t":1.15,"d":2.55,"v":0.1},{"t":1.2,"d":2.55,"v":0.03},{"t":1.25,"d":2.55,"v":0.02},{"t":1.3,"d":2.55,"v":0.02},{"t":1.35,"d":2.55,"v":0.02},{"t":1.4,"d":2.55,"v":0.02},{"t":1.45,"d":2.55,"v":0.02},
{"t":1.5,"d":2.55,"v":0.02},{"t":1.55,"d":2.55,"v":0.02},{"t":1.6,"d":2.55,"v":0.02},{"t":1.65,"d":2.55,"v":0.02},{"t":1.7,"d":2.55,"v":0.02},{"t":1.75,"d":2.55,"v":0.02},{"t":1.8,"d":2.55,"v":0.02},{"t":1.85,"d":2.55,"v":0.03},{"t":1.9,"d":2.55,"v":0.1},{"t":1.95,"d":2.55,"v":0.38},{"t":2,"d":2.55,"v":0.78},{"t":2.05,"d":2.55,"v":0.86},{"t":2.1,"d":2.55,"v":0.38},{"t":2.15,"d":2.55,"v":0.1},{"t":2.2,"d":2.55,"v":0.03},{"t":2.25,"d":2.55,"v":0.02},{"t":2.3,"d":2.55,"v":0.02},{"t":2.35,"d":2.55,"v":0.02},{"t":2.4,"d":2.55,"v":0.02},{"t":2.45,"d":2.55,"v":0.02},
{"t":2.5,"d":2.55,"v":0.02},{"t":2.55,"d":2.55,"v":0.02},{"t":2.6,"d":2.55,"v":0.02},{"t":2.65,"d":2.55,"v":0.02},{"t":2.7,"d":2.55,"v":0.02},{"t":2.75,"d":2.55,"v":0.02},{"t":2.8,"d":2.55,"v":0.02},{"t":2.85,"d":2.55,"v":0.03},{"t":2.9,"d":2.55,"v":0.1},{"t":2.95,"d":2.55,"v":0.38},{"t":3,"d":2.55,"v":0.78},{"t":3.05,"d":2.55,"v":0.86},{"t":3.1,"d":2.55,"v":0.38},{"t":3.15,"d":2.55,"v":0.1},{"t":3.2,"d":2.55,"v":0.03},{"t":3.25,"d":2.55,"v":0.02},{"t":3.3,"d":2.55,"v":0.02},{"t":3.35,"d":2.55,"v":0.02},{"t":3.4,"d":2.55,"v":0.02},{"t":3.45,"d":2.55,"v":0.02},
{"t":3.5,"d":2.55,"v":0.02},{"t":3.55,"d":2.55,"v":0.02},{"t":3.6,"d":2.55,"v":0.02},{"t":3.65,"d":2.55,"v":0.02},{"t":3.7,"d":2.55,"v":0.02},{"t":3.75,"d":2.55,"v":0.02},{"t":3.8,"d":2.55,"v":0.02},{"t":3.85,"d":2.55,"v":0.03},{"t":3.9,"d":2.55,"v":0.1},{"t":3.95,"d":2.55,"v":0.38},

{"t":0.5,"d":2.7,"v":0.02},{"t":0.55,"d":2.7,"v":0.02},{"t":0.6,"d":2.7,"v":0.02},{"t":0.65,"d":2.7,"v":0.02},{"t":0.7,"d":2.7,"v":0.02},{"t":0.75,"d":2.7,"v":0.02},{"t":0.8,"d":2.7,"v":0.02},{"t":0.85,"d":2.7,"v":0.03},{"t":0.9,"d":2.7,"v":0.08},{"t":0.95,"d":2.7,"v":0.34},{"t":1,"d":2.7,"v":0.78},{"t":1.05,"d":2.7,"v":0.86},{"t":1.1,"d":2.7,"v":0.34},{"t":1.15,"d":2.7,"v":0.08},{"t":1.2,"d":2.7,"v":0.03},{"t":1.25,"d":2.7,"v":0.02},{"t":1.3,"d":2.7,"v":0.02},{"t":1.35,"d":2.7,"v":0.02},{"t":1.4,"d":2.7,"v":0.02},{"t":1.45,"d":2.7,"v":0.02},
{"t":1.5,"d":2.7,"v":0.02},{"t":1.55,"d":2.7,"v":0.02},{"t":1.6,"d":2.7,"v":0.02},{"t":1.65,"d":2.7,"v":0.02},{"t":1.7,"d":2.7,"v":0.02},{"t":1.75,"d":2.7,"v":0.02},{"t":1.8,"d":2.7,"v":0.1},{"t":1.85,"d":2.7,"v":0.03},{"t":1.9,"d":2.7,"v":0.08},{"t":1.95,"d":2.7,"v":0.34},{"t":2,"d":2.7,"v":0.78},{"t":2.05,"d":2.7,"v":0.86},{"t":2.1,"d":2.7,"v":0.34},{"t":2.15,"d":2.7,"v":0.08},{"t":2.2,"d":2.7,"v":0.03},{"t":2.25,"d":2.7,"v":0.02},{"t":2.3,"d":2.7,"v":0.02},{"t":2.35,"d":2.7,"v":0.02},{"t":2.4,"d":2.7,"v":0.02},{"t":2.45,"d":2.7,"v":0.02},
{"t":2.5,"d":2.7,"v":0.02},{"t":2.55,"d":2.7,"v":0.02},{"t":2.6,"d":2.7,"v":0.02},{"t":2.65,"d":2.7,"v":0.02},{"t":2.7,"d":2.7,"v":0.02},{"t":2.75,"d":2.7,"v":0.02},{"t":2.8,"d":2.7,"v":0.02},{"t":2.85,"d":2.7,"v":0.03},{"t":2.9,"d":2.7,"v":0.08},{"t":2.95,"d":2.7,"v":0.34},{"t":3,"d":2.7,"v":0.78},{"t":3.05,"d":2.7,"v":0.86},{"t":3.1,"d":2.7,"v":0.34},{"t":3.15,"d":2.7,"v":0.08},{"t":3.2,"d":2.7,"v":0.03},{"t":3.25,"d":2.7,"v":0.02},{"t":3.3,"d":2.7,"v":0.02},{"t":3.35,"d":2.7,"v":0.02},{"t":3.4,"d":2.7,"v":0.02},{"t":3.45,"d":2.7,"v":0.02},
{"t":3.5,"d":2.7,"v":0.02},{"t":3.55,"d":2.7,"v":0.02},{"t":3.6,"d":2.7,"v":0.02},{"t":3.65,"d":2.7,"v":0.02},{"t":3.7,"d":2.7,"v":0.02},{"t":3.75,"d":2.7,"v":0.02},{"t":3.8,"d":2.7,"v":0.02},{"t":3.85,"d":2.7,"v":0.03},{"t":3.9,"d":2.7,"v":0.08},{"t":3.95,"d":2.7,"v":0.34},

{"t":0.5,"d":2.85,"v":0.02},{"t":0.55,"d":2.85,"v":0.02},{"t":0.6,"d":2.85,"v":0.02},{"t":0.65,"d":2.85,"v":0.02},{"t":0.7,"d":2.85,"v":0.02},{"t":0.75,"d":2.85,"v":0.02},{"t":0.8,"d":2.85,"v":0.02},{"t":0.85,"d":2.85,"v":0.02},{"t":0.9,"d":2.85,"v":0.06},{"t":0.95,"d":2.85,"v":0.31},{"t":1,"d":2.85,"v":0.77},{"t":1.05,"d":2.85,"v":0.85},{"t":1.1,"d":2.85,"v":0.31},{"t":1.15,"d":2.85,"v":0.06},{"t":1.2,"d":2.85,"v":0.02},{"t":1.25,"d":2.85,"v":0.02},{"t":1.3,"d":2.85,"v":0.02},{"t":1.35,"d":2.85,"v":0.02},{"t":1.4,"d":2.85,"v":0.02},{"t":1.45,"d":2.85,"v":0.02},
{"t":1.5,"d":2.85,"v":0.02},{"t":1.55,"d":2.85,"v":0.02},{"t":1.6,"d":2.85,"v":0.02},{"t":1.65,"d":2.85,"v":0.02},{"t":1.7,"d":2.85,"v":0.02},{"t":1.75,"d":2.85,"v":0.02},{"t":1.8,"d":2.85,"v":0.02},{"t":1.85,"d":2.85,"v":0.02},{"t":1.9,"d":2.85,"v":0.06},{"t":1.95,"d":2.85,"v":0.31},{"t":2,"d":2.85,"v":0.77},{"t":2.05,"d":2.85,"v":0.85},{"t":2.1,"d":2.85,"v":0.31},{"t":2.15,"d":2.85,"v":0.06},{"t":2.2,"d":2.85,"v":0.02},{"t":2.25,"d":2.85,"v":0.02},{"t":2.3,"d":2.85,"v":0.02},{"t":2.35,"d":2.85,"v":0.02},{"t":2.4,"d":2.85,"v":0.02},{"t":2.45,"d":2.85,"v":0.02},
{"t":2.5,"d":2.85,"v":0.02},{"t":2.55,"d":2.85,"v":0.02},{"t":2.6,"d":2.85,"v":0.02},{"t":2.65,"d":2.85,"v":0.02},{"t":2.7,"d":2.85,"v":0.02},{"t":2.75,"d":2.85,"v":0.02},{"t":2.8,"d":2.85,"v":0.02},{"t":2.85,"d":2.85,"v":0.02},{"t":2.9,"d":2.85,"v":0.06},{"t":2.95,"d":2.85,"v":0.31},{"t":3,"d":2.85,"v":0.77},{"t":3.05,"d":2.85,"v":0.85},{"t":3.1,"d":2.85,"v":0.31},{"t":3.15,"d":2.85,"v":0.06},{"t":3.2,"d":2.85,"v":0.02},{"t":3.25,"d":2.85,"v":0.04},{"t":3.3,"d":2.85,"v":0.02},{"t":3.35,"d":2.85,"v":0.02},{"t":3.4,"d":2.85,"v":0.02},{"t":3.45,"d":2.85,"v":0.02},
{"t":3.5,"d":2.85,"v":0.02},{"t":3.55,"d":2.85,"v":0.02},{"t":3.6,"d":2.85,"v":0.02},{"t":3.65,"d":2.85,"v":0.02},{"t":3.7,"d":2.85,"v":0.02},{"t":3.75,"d":2.85,"v":0.02},{"t":3.8,"d":2.85,"v":0.02},{"t":3.85,"d":2.85,"v":0.02},{"t":3.9,"d":2.85,"v":0.06},{"t":3.95,"d":2.85,"v":0.31},

{"t":0.5,"d":3,"v":0.02},{"t":0.55,"d":3,"v":0.02},{"t":0.6,"d":3,"v":0.02},{"t":0.65,"d":3,"v":0.02},{"t":0.7,"d":3,"v":0.02},{"t":0.75,"d":3,"v":0.02},{"t":0.8,"d":3,"v":0.02},{"t":0.85,"d":3,"v":0.02},{"t":0.9,"d":3,"v":0.05},{"t":0.95,"d":3,"v":0.28},{"t":1,"d":3,"v":0.77},{"t":1.05,"d":3,"v":0.85},{"t":1.1,"d":3,"v":0.28},{"t":1.15,"d":3,"v":0.05},{"t":1.2,"d":3,"v":0.02},{"t":1.25,"d":3,"v":0.02},{"t":1.3,"d":3,"v":0.02},{"t":1.35,"d":3,"v":0.02},{"t":1.4,"d":3,"v":0.02},{"t":1.45,"d":3,"v":0.02},
{"t":1.5,"d":3,"v":0.02},{"t":1.55,"d":3,"v":0.02},{"t":1.6,"d":3,"v":0.02},{"t":1.65,"d":3,"v":0.02},{"t":1.7,"d":3,"v":0.02},{"t":1.75,"d":3,"v":0.02},{"t":1.8,"d":3,"v":0.02},{"t":1.85,"d":3,"v":0.02},{"t":1.9,"d":3,"v":0.05},{"t":1.95,"d":3,"v":0.28},{"t":2,"d":3,"v":0.77},{"t":2.05,"d":3,"v":0.85},{"t":2.1,"d":3,"v":0.28},{"t":2.15,"d":3,"v":0.05},{"t":2.2,"d":3,"v":0.02},{"t":2.25,"d":3,"v":0.02},{"t":2.3,"d":3,"v":0.02},{"t":2.35,"d":3,"v":0.02},{"t":2.4,"d":3,"v":0.02},{"t":2.45,"d":3,"v":0.02},
{"t":2.5,"d":3,"v":0.02},{"t":2.55,"d":3,"v":0.02},{"t":2.6,"d":3,"v":0.02},{"t":2.65,"d":3,"v":0.02},{"t":2.7,"d":3,"v":0.02},{"t":2.75,"d":3,"v":0.02},{"t":2.8,"d":3,"v":0.02},{"t":2.85,"d":3,"v":0.02},{"t":2.9,"d":3,"v":0.05},{"t":2.95,"d":3,"v":0.28},{"t":3,"d":3,"v":0.77},{"t":3.05,"d":3,"v":0.85},{"t":3.1,"d":3,"v":0.28},{"t":3.15,"d":3,"v":0.05},{"t":3.2,"d":3,"v":0.02},{"t":3.25,"d":3,"v":0.02},{"t":3.3,"d":3,"v":0.02},{"t":3.35,"d":3,"v":0.02},{"t":3.4,"d":3,"v":0.02},{"t":3.45,"d":3,"v":0.02},
{"t":3.5,"d":3,"v":0.02},{"t":3.55,"d":3,"v":0.02},{"t":3.6,"d":3,"v":0.02},{"t":3.65,"d":3,"v":0.02},{"t":3.7,"d":3,"v":0.02},{"t":3.75,"d":3,"v":0.02},{"t":3.8,"d":3,"v":0.02},{"t":3.85,"d":3,"v":0.02},{"t":3.9,"d":3,"v":0.05},{"t":3.95,"d":3,"v":0.28}
  ]},
  "mark": {"type": "point", "filled": true, "shape": "M-1,-1.13H1V1.13H-1Z", "size": 42.25, "strokeWidth": 0, "opacity": 1, "clip": true},
  "encoding": {
    "x": {"field": "t", "type": "quantitative", "scale": {"domain": [0.475, 3.975], "nice": false, "zero": false}, "axis": {"values": [1, 2, 3], "format": "d", "title": "Delay (us)", "titlePadding": 13}},
    "y": {"field": "d", "type": "quantitative", "scale": {"domain": [-0.075, 3.075], "nice": false, "zero": false}, "axis": {"values": [0, 2], "format": "d", "title": "Displacement", "titlePadding": 13}},
    "color": {"field": "v", "type": "quantitative",
      "scale": {"domain": [0, 0.125, 0.25, 0.375, 0.5, 0.625, 0.75, 0.875, 1], "range": ["#f7fbff", "#deebf7", "#c6dbef", "#9ecae1", "#6baed6", "#4292c6", "#2171b5", "#08519c", "#08306b"]},
      "legend": {"title": "Classified", "orient": "none", "legendX": 423.4, "legendY": -29, "direction": "vertical", "gradientLength": 152, "gradientThickness": 8, "gradientStrokeColor": "black", "gradientStrokeWidth": 1, "values": [0, 0.5, 1], "format": ".1f", "labelFontSize": 19, "labelColor": "black", "labelOffset": 17, "titleFontSize": 15, "titleFontWeight": "normal", "titleColor": "black", "titleAlign": "center", "titlePadding": 12, "padding": 0,
        "encoding": {"labels": {"baseline": {"value": "middle"}}}}}
  }
},
{
  "width": 425, "height": 223,
  "title": {"text": "(b)", "dx": -81.3, "offset": 0},
  "data": {"values": [
    {"x": 0.3, "y": -2.13, "lo": -3.56, "hi": -0.7},
    {"x": 0.45, "y": 0.39, "lo": -0.4, "hi": 1.18},
    {"x": 0.6, "y": 1.16, "lo": 0.38, "hi": 1.94},
    {"x": 0.75, "y": 0.55, "lo": -0.11, "hi": 1.21},
    {"x": 0.9, "y": 0.6, "lo": -0.11, "hi": 1.32},
    {"x": 1.05, "y": 0.97, "lo": 0.56, "hi": 1.37},
    {"x": 1.2, "y": 0.51, "lo": 0.11, "hi": 0.91},
    {"x": 1.35, "y": 0.78, "lo": 0.4, "hi": 1.16},
    {"x": 1.5, "y": 1.36, "lo": 1.05, "hi": 1.67},
    {"x": 1.65, "y": 1.37, "lo": 1.02, "hi": 1.72},
    {"x": 1.8, "y": 2.4, "lo": 2.07, "hi": 2.74},
    {"x": 1.95, "y": 3.17, "lo": 2.8, "hi": 3.55},
    {"x": 2.1, "y": 4.4, "lo": 4.08, "hi": 4.7},
    {"x": 2.25, "y": 4.2, "lo": 3.93, "hi": 4.46},
    {"x": 2.4, "y": 5.28, "lo": 4.94, "hi": 5.62},
    {"x": 2.55, "y": 5.87, "lo": 5.51, "hi": 6.24},
    {"x": 2.7, "y": 6.75, "lo": 6.32, "hi": 7.18},
    {"x": 2.85, "y": 7.69, "lo": 7.39, "hi": 7.98},
    {"x": 3, "y": 8.38, "lo": 8.04, "hi": 8.73}
  ]},
  "layer": [
    {
      "data": {"values": [
        {"s": "Fit, Kₛ/2π =  0.97 ± 0.02 kHz", "x": 0.12, "y": 0.0004},
        {"s": "Fit, Kₛ/2π =  0.97 ± 0.02 kHz", "x": 0.2, "y": 0.003},
        {"s": "Fit, Kₛ/2π =  0.97 ± 0.02 kHz", "x": 0.3, "y": 0.013},
        {"s": "Fit, Kₛ/2π =  0.97 ± 0.02 kHz", "x": 0.4, "y": 0.036},
        {"s": "Fit, Kₛ/2π =  0.97 ± 0.02 kHz", "x": 0.5, "y": 0.078},
        {"s": "Fit, Kₛ/2π =  0.97 ± 0.02 kHz", "x": 0.6, "y": 0.142},
        {"s": "Fit, Kₛ/2π =  0.97 ± 0.02 kHz", "x": 0.7, "y": 0.231},
        {"s": "Fit, Kₛ/2π =  0.97 ± 0.02 kHz", "x": 0.8, "y": 0.344},
        {"s": "Fit, Kₛ/2π =  0.97 ± 0.02 kHz", "x": 0.9, "y": 0.482},
        {"s": "Fit, Kₛ/2π =  0.97 ± 0.02 kHz", "x": 1.0, "y": 0.645},
        {"s": "Fit, Kₛ/2π =  0.97 ± 0.02 kHz", "x": 1.1, "y": 0.831},
        {"s": "Fit, Kₛ/2π =  0.97 ± 0.02 kHz", "x": 1.2, "y": 1.041},
        {"s": "Fit, Kₛ/2π =  0.97 ± 0.02 kHz", "x": 1.3, "y": 1.274},
        {"s": "Fit, Kₛ/2π =  0.97 ± 0.02 kHz", "x": 1.4, "y": 1.529},
        {"s": "Fit, Kₛ/2π =  0.97 ± 0.02 kHz", "x": 1.5, "y": 1.806},
        {"s": "Fit, Kₛ/2π =  0.97 ± 0.02 kHz", "x": 1.6, "y": 2.105},
        {"s": "Fit, Kₛ/2π =  0.97 ± 0.02 kHz", "x": 1.7, "y": 2.426},
        {"s": "Fit, Kₛ/2π =  0.97 ± 0.02 kHz", "x": 1.8, "y": 2.767},
        {"s": "Fit, Kₛ/2π =  0.97 ± 0.02 kHz", "x": 1.9, "y": 3.13},
        {"s": "Fit, Kₛ/2π =  0.97 ± 0.02 kHz", "x": 2.0, "y": 3.513},
        {"s": "Fit, Kₛ/2π =  0.97 ± 0.02 kHz", "x": 2.1, "y": 3.917},
        {"s": "Fit, Kₛ/2π =  0.97 ± 0.02 kHz", "x": 2.2, "y": 4.342},
        {"s": "Fit, Kₛ/2π =  0.97 ± 0.02 kHz", "x": 2.3, "y": 4.787},
        {"s": "Fit, Kₛ/2π =  0.97 ± 0.02 kHz", "x": 2.4, "y": 5.253},
        {"s": "Fit, Kₛ/2π =  0.97 ± 0.02 kHz", "x": 2.5, "y": 5.739},
        {"s": "Fit, Kₛ/2π =  0.97 ± 0.02 kHz", "x": 2.6, "y": 6.246},
        {"s": "Fit, Kₛ/2π =  0.97 ± 0.02 kHz", "x": 2.7, "y": 6.772},
        {"s": "Fit, Kₛ/2π =  0.97 ± 0.02 kHz", "x": 2.8, "y": 7.319},
        {"s": "Fit, Kₛ/2π =  0.97 ± 0.02 kHz", "x": 2.9, "y": 7.887},
        {"s": "Fit, Kₛ/2π =  0.97 ± 0.02 kHz", "x": 3.0, "y": 8.473},
        {"s": "Simulation for Kₛ/2pi = 0.5 kHz", "x": 0.12, "y": 0.0002},
        {"s": "Simulation for Kₛ/2pi = 0.5 kHz", "x": 0.2, "y": 0.001},
        {"s": "Simulation for Kₛ/2pi = 0.5 kHz", "x": 0.3, "y": 0.007},
        {"s": "Simulation for Kₛ/2pi = 0.5 kHz", "x": 0.4, "y": 0.019},
        {"s": "Simulation for Kₛ/2pi = 0.5 kHz", "x": 0.5, "y": 0.04},
        {"s": "Simulation for Kₛ/2pi = 0.5 kHz", "x": 0.6, "y": 0.073},
        {"s": "Simulation for Kₛ/2pi = 0.5 kHz", "x": 0.7, "y": 0.119},
        {"s": "Simulation for Kₛ/2pi = 0.5 kHz", "x": 0.8, "y": 0.177},
        {"s": "Simulation for Kₛ/2pi = 0.5 kHz", "x": 0.9, "y": 0.249},
        {"s": "Simulation for Kₛ/2pi = 0.5 kHz", "x": 1.0, "y": 0.332},
        {"s": "Simulation for Kₛ/2pi = 0.5 kHz", "x": 1.1, "y": 0.428},
        {"s": "Simulation for Kₛ/2pi = 0.5 kHz", "x": 1.2, "y": 0.537},
        {"s": "Simulation for Kₛ/2pi = 0.5 kHz", "x": 1.3, "y": 0.657},
        {"s": "Simulation for Kₛ/2pi = 0.5 kHz", "x": 1.4, "y": 0.788},
        {"s": "Simulation for Kₛ/2pi = 0.5 kHz", "x": 1.5, "y": 0.931},
        {"s": "Simulation for Kₛ/2pi = 0.5 kHz", "x": 1.6, "y": 1.085},
        {"s": "Simulation for Kₛ/2pi = 0.5 kHz", "x": 1.7, "y": 1.25},
        {"s": "Simulation for Kₛ/2pi = 0.5 kHz", "x": 1.8, "y": 1.427},
        {"s": "Simulation for Kₛ/2pi = 0.5 kHz", "x": 1.9, "y": 1.613},
        {"s": "Simulation for Kₛ/2pi = 0.5 kHz", "x": 2.0, "y": 1.811},
        {"s": "Simulation for Kₛ/2pi = 0.5 kHz", "x": 2.1, "y": 2.019},
        {"s": "Simulation for Kₛ/2pi = 0.5 kHz", "x": 2.2, "y": 2.238},
        {"s": "Simulation for Kₛ/2pi = 0.5 kHz", "x": 2.3, "y": 2.468},
        {"s": "Simulation for Kₛ/2pi = 0.5 kHz", "x": 2.4, "y": 2.708},
        {"s": "Simulation for Kₛ/2pi = 0.5 kHz", "x": 2.5, "y": 2.958},
        {"s": "Simulation for Kₛ/2pi = 0.5 kHz", "x": 2.6, "y": 3.22},
        {"s": "Simulation for Kₛ/2pi = 0.5 kHz", "x": 2.7, "y": 3.491},
        {"s": "Simulation for Kₛ/2pi = 0.5 kHz", "x": 2.8, "y": 3.773},
        {"s": "Simulation for Kₛ/2pi = 0.5 kHz", "x": 2.9, "y": 4.065},
        {"s": "Simulation for Kₛ/2pi = 0.5 kHz", "x": 3.0, "y": 4.368},
        {"s": "Simulation for Kₛ/2pi = 1.5 kHz", "x": 0.12, "y": 0.0006},
        {"s": "Simulation for Kₛ/2pi = 1.5 kHz", "x": 0.2, "y": 0.004},
        {"s": "Simulation for Kₛ/2pi = 1.5 kHz", "x": 0.3, "y": 0.02},
        {"s": "Simulation for Kₛ/2pi = 1.5 kHz", "x": 0.4, "y": 0.056},
        {"s": "Simulation for Kₛ/2pi = 1.5 kHz", "x": 0.5, "y": 0.121},
        {"s": "Simulation for Kₛ/2pi = 1.5 kHz", "x": 0.6, "y": 0.22},
        {"s": "Simulation for Kₛ/2pi = 1.5 kHz", "x": 0.7, "y": 0.357},
        {"s": "Simulation for Kₛ/2pi = 1.5 kHz", "x": 0.8, "y": 0.532},
        {"s": "Simulation for Kₛ/2pi = 1.5 kHz", "x": 0.9, "y": 0.745},
        {"s": "Simulation for Kₛ/2pi = 1.5 kHz", "x": 1.0, "y": 0.997},
        {"s": "Simulation for Kₛ/2pi = 1.5 kHz", "x": 1.1, "y": 1.285},
        {"s": "Simulation for Kₛ/2pi = 1.5 kHz", "x": 1.2, "y": 1.61},
        {"s": "Simulation for Kₛ/2pi = 1.5 kHz", "x": 1.3, "y": 1.97},
        {"s": "Simulation for Kₛ/2pi = 1.5 kHz", "x": 1.4, "y": 2.365},
        {"s": "Simulation for Kₛ/2pi = 1.5 kHz", "x": 1.5, "y": 2.794},
        {"s": "Simulation for Kₛ/2pi = 1.5 kHz", "x": 1.6, "y": 3.256},
        {"s": "Simulation for Kₛ/2pi = 1.5 kHz", "x": 1.7, "y": 3.751},
        {"s": "Simulation for Kₛ/2pi = 1.5 kHz", "x": 1.8, "y": 4.279},
        {"s": "Simulation for Kₛ/2pi = 1.5 kHz", "x": 1.9, "y": 4.84},
        {"s": "Simulation for Kₛ/2pi = 1.5 kHz", "x": 2.0, "y": 5.433},
        {"s": "Simulation for Kₛ/2pi = 1.5 kHz", "x": 2.1, "y": 6.058},
        {"s": "Simulation for Kₛ/2pi = 1.5 kHz", "x": 2.2, "y": 6.715},
        {"s": "Simulation for Kₛ/2pi = 1.5 kHz", "x": 2.3, "y": 7.403},
        {"s": "Simulation for Kₛ/2pi = 1.5 kHz", "x": 2.4, "y": 8.124},
        {"s": "Simulation for Kₛ/2pi = 1.5 kHz", "x": 2.5, "y": 8.875},
        {"s": "Simulation for Kₛ/2pi = 1.5 kHz", "x": 2.6, "y": 9.658},
        {"s": "Simulation for Kₛ/2pi = 1.5 kHz", "x": 2.7, "y": 10.473},
        {"s": "Simulation for Kₛ/2pi = 1.5 kHz", "x": 2.8, "y": 11.319},
        {"s": "Simulation for Kₛ/2pi = 1.5 kHz", "x": 2.9, "y": 12.196},
        {"s": "Simulation for Kₛ/2pi = 1.5 kHz", "x": 3.0, "y": 13.104}
      ]},
      "mark": {"type": "line", "strokeWidth": 2.8, "clip": true},
      "encoding": {
        "x": {"field": "x", "type": "quantitative", "scale": {"domain": [-0.028, 3.144], "nice": false, "zero": false}, "axis": {"values": [0, 0.5, 1, 1.5, 2, 2.5, 3], "format": ".1f", "title": "Displacement", "titlePadding": 7}},
        "y": {"field": "y", "type": "quantitative", "scale": {"domain": [-3, 15], "nice": false, "zero": false}, "axis": {"values": [0, 5, 10, 15], "format": "d", "title": "Frequency shift (kHz)", "titlePadding": 7}},
        "color": {"field": "s", "type": "nominal",
          "scale": {"domain": ["Data", "Fit, Kₛ/2π =  0.97 ± 0.02 kHz", "Simulation for Kₛ/2pi = 0.5 kHz", "Simulation for Kₛ/2pi = 1.5 kHz"], "range": ["black", "#808080", "#1f77b4", "#ff7f0e"]},
          "legend": {"title": null, "orient": "none", "legendX": 12.2, "legendY": 6.3, "padding": 2.5, "rowPadding": 7.5, "symbolType": "stroke", "symbolSize": 400, "symbolStrokeWidth": 2.8, "labelFontSize": 12, "labelColor": "black", "labelOffset": 24.5, "labelLimit": 400, "strokeColor": "#cccccc", "fillColor": "#ffffff", "cornerRadius": 4,
            "encoding": {"symbols": {
              "shape": {"value": {"expr": "datum.value === 'Data' ? 'M0.6,-0.6V0.6M0.35,-0.6H0.85M0.35,0.6H0.85M0.25,0A0.35,0.35 0 1,0 0.95,0A0.35,0.35 0 1,0 0.25,0Z' : 'M-0.8,0H2'"}},
              "fill": {"value": {"expr": "datum.value === 'Data' ? 'black' : 'transparent'"}},
              "strokeWidth": {"value": {"expr": "datum.value === 'Data' ? 2 : 2.8"}}
            }}}}
      }
    },
    {
      "mark": {"type": "rule", "color": "black", "strokeWidth": 2, "clip": true},
      "encoding": {
        "x": {"field": "x", "type": "quantitative", "scale": {"domain": [-0.028, 3.144], "nice": false, "zero": false}, "axis": {"values": [0, 0.5, 1, 1.5, 2, 2.5, 3], "format": ".1f", "title": "Displacement", "titlePadding": 7}},
        "y": {"field": "lo", "type": "quantitative", "scale": {"domain": [-3, 15], "nice": false, "zero": false}, "axis": {"values": [0, 5, 10, 15], "format": "d", "title": "Frequency shift (kHz)", "titlePadding": 7}},
        "y2": {"field": "hi"}
      }
    },
    {
      "mark": {"type": "tick", "orient": "horizontal", "color": "black", "size": 5.5, "thickness": 2, "opacity": 1, "clip": true},
      "encoding": {
        "x": {"field": "x", "type": "quantitative", "scale": {"domain": [-0.028, 3.144], "nice": false, "zero": false}, "axis": {"values": [0, 0.5, 1, 1.5, 2, 2.5, 3], "format": ".1f", "title": "Displacement", "titlePadding": 7}},
        "y": {"field": "lo", "type": "quantitative", "scale": {"domain": [-3, 15], "nice": false, "zero": false}, "axis": {"values": [0, 5, 10, 15], "format": "d", "title": "Frequency shift (kHz)", "titlePadding": 7}}
      }
    },
    {
      "mark": {"type": "tick", "orient": "horizontal", "color": "black", "size": 5.5, "thickness": 2, "opacity": 1, "clip": true},
      "encoding": {
        "x": {"field": "x", "type": "quantitative", "scale": {"domain": [-0.028, 3.144], "nice": false, "zero": false}, "axis": {"values": [0, 0.5, 1, 1.5, 2, 2.5, 3], "format": ".1f", "title": "Displacement", "titlePadding": 7}},
        "y": {"field": "hi", "type": "quantitative", "scale": {"domain": [-3, 15], "nice": false, "zero": false}, "axis": {"values": [0, 5, 10, 15], "format": "d", "title": "Frequency shift (kHz)", "titlePadding": 7}}
      }
    },
    {
      "mark": {"type": "circle", "color": "black", "size": 34, "opacity": 1},
      "encoding": {
        "x": {"field": "x", "type": "quantitative", "scale": {"domain": [-0.028, 3.144], "nice": false, "zero": false}, "axis": {"values": [0, 0.5, 1, 1.5, 2, 2.5, 3], "format": ".1f", "title": "Displacement", "titlePadding": 7}},
        "y": {"field": "y", "type": "quantitative", "scale": {"domain": [-3, 15], "nice": false, "zero": false}, "axis": {"values": [0, 5, 10, 15], "format": "d", "title": "Frequency shift (kHz)", "titlePadding": 7}}
      }
    }
  ]
}
]
}
